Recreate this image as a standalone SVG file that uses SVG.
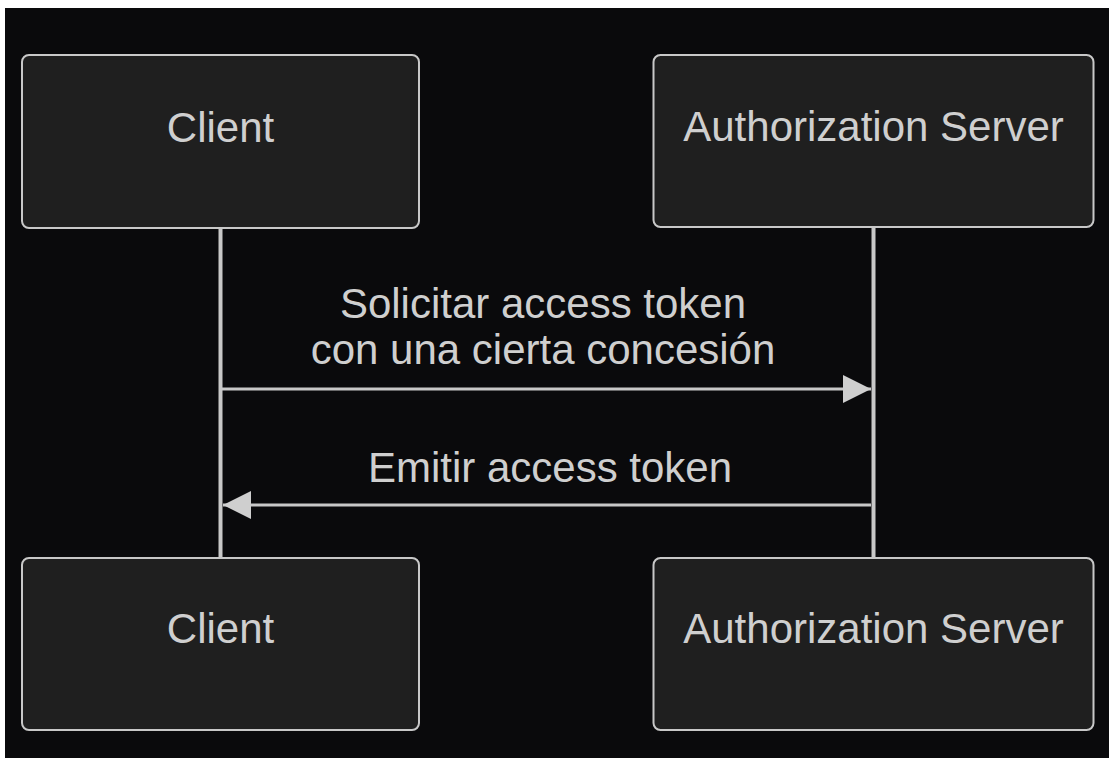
<svg xmlns="http://www.w3.org/2000/svg" width="1109" height="758" viewBox="0 0 1109 758">
<defs>
<style>
.box{fill:#1f1f1f;stroke:#c8c8c8;stroke-width:2}
.lbl{font-family:"Liberation Sans",Arial,sans-serif;font-size:42px;fill:#cfcfcf;text-anchor:middle}
.life{stroke:#c8c8c8;stroke-width:4;fill:none}
.msg{stroke:#c8c8c8;stroke-width:3;fill:none}
</style>
<marker id="ah" markerUnits="userSpaceOnUse" markerWidth="30" markerHeight="30" refX="28" refY="14" orient="auto">
<path d="M0,0 L28,14 L0,28 Z" fill="#cfcfcf"/>
</marker>
</defs>
<rect x="0" y="0" width="1109" height="758" fill="#ffffff"/>
<rect x="5" y="8" width="1104" height="750" fill="#0a0a0c"/>
<g id="connectors">
<line class="life" x1="220.5" y1="228" x2="220.5" y2="558"/>
<line class="life" x1="873.5" y1="227" x2="873.5" y2="558"/>
<line class="msg" x1="222" y1="389" x2="871" y2="389" marker-end="url(#ah)"/>
<line class="msg" x1="871" y1="505" x2="223" y2="505" marker-end="url(#ah)"/>
<text class="lbl" x="543" y="318">Solicitar access token</text>
<text class="lbl" x="543" y="364">con una cierta concesión</text>
<text class="lbl" x="550" y="482">Emitir access token</text>
</g>
<g id="client-top">
<rect class="box" x="22" y="55" width="397" height="173" rx="7"/>
<text class="lbl" x="220.5" y="142">Client</text>
</g>
<g id="server-top">
<rect class="box" x="653.5" y="55" width="440" height="172" rx="7"/>
<text class="lbl" x="873.5" y="141">Authorization Server</text>
</g>
<g id="client-bottom">
<rect class="box" x="22" y="558" width="397" height="172" rx="7"/>
<text class="lbl" x="220.5" y="643">Client</text>
</g>
<g id="server-bottom">
<rect class="box" x="653.5" y="558" width="440" height="172" rx="7"/>
<text class="lbl" x="873.5" y="643">Authorization Server</text>
</g>
</svg>
